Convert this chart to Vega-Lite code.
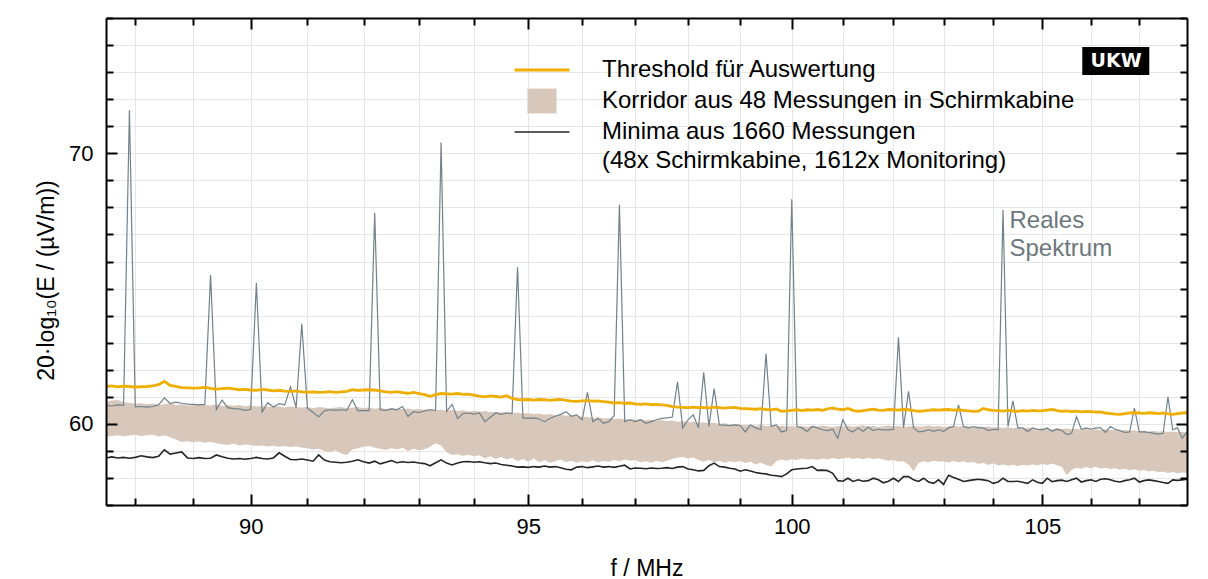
{
"$schema": "https://vega.github.io/schema/vega-lite/v6.json",
"width": 1081, "height": 487,
"autosize": {"type": "none"},
"padding": {"left": 106, "top": 18, "right": 21, "bottom": 74},
"background": "#ffffff",
"config": {
  "view": {"stroke": null},
  "font": "Liberation Sans",
  "axis": {"domainColor": "#000000", "domainWidth": 2, "tickColor": "#000000", "tickWidth": 2, "labelFont": "Liberation Sans", "labelFontSize": 22, "labelColor": "#000000", "titleFont": "Liberation Sans", "titleFontSize": 23, "titleFontWeight": "normal", "titleColor": "#000000", "gridColor": "#e6e6e6", "gridWidth": 1},
  "legend": {"orient": "none", "legendX": 424, "legendY": 40, "direction": "vertical", "labelFont": "Liberation Sans", "labelFontSize": 24, "labelColor": "#000000", "labelLimit": 1000, "labelOffset": 48, "symbolSize": 900, "rowPadding": 6, "symbolStrokeWidth": 2.5}
},
"data": {"values": [
{"f":87.5,"s":60.68,"t":61.38,"lo":59.52,"hi":60.82,"m":58.74},
{"f":87.6,"s":60.66,"t":61.40,"lo":59.55,"hi":60.86,"m":58.78},
{"f":87.7,"s":60.70,"t":61.37,"lo":59.58,"hi":60.88,"m":58.74},
{"f":87.8,"s":60.68,"t":61.39,"lo":59.54,"hi":60.80,"m":58.76},
{"f":87.9,"s":71.6,"t":61.38,"lo":59.57,"hi":60.78,"m":58.73},
{"f":88.0,"s":60.63,"t":61.36,"lo":59.60,"hi":60.74,"m":58.76},
{"f":88.1,"s":60.64,"t":61.37,"lo":59.55,"hi":60.76,"m":58.82},
{"f":88.2,"s":60.62,"t":61.38,"lo":59.58,"hi":60.72,"m":58.78},
{"f":88.3,"s":60.64,"t":61.40,"lo":59.60,"hi":60.75,"m":58.75},
{"f":88.4,"s":60.70,"t":61.45,"lo":59.53,"hi":60.70,"m":58.80},
{"f":88.5,"s":60.96,"t":61.57,"lo":59.58,"hi":60.72,"m":59.04},
{"f":88.6,"s":60.75,"t":61.42,"lo":59.50,"hi":60.76,"m":58.88},
{"f":88.7,"s":60.80,"t":61.38,"lo":59.42,"hi":60.70,"m":58.92},
{"f":88.8,"s":60.76,"t":61.34,"lo":59.33,"hi":60.72,"m":58.96},
{"f":88.9,"s":60.73,"t":61.33,"lo":59.36,"hi":60.68,"m":58.74},
{"f":89.0,"s":60.72,"t":61.32,"lo":59.32,"hi":60.70,"m":58.72},
{"f":89.1,"s":60.70,"t":61.33,"lo":59.35,"hi":60.74,"m":58.75},
{"f":89.2,"s":60.72,"t":61.35,"lo":59.30,"hi":60.70,"m":58.72},
{"f":89.3,"s":65.5,"t":61.31,"lo":59.34,"hi":60.68,"m":58.73},
{"f":89.4,"s":60.52,"t":61.28,"lo":59.28,"hi":60.72,"m":58.85},
{"f":89.5,"s":60.88,"t":61.30,"lo":59.25,"hi":60.66,"m":58.78},
{"f":89.6,"s":60.60,"t":61.32,"lo":59.22,"hi":60.70,"m":58.73},
{"f":89.7,"s":60.56,"t":61.29,"lo":59.27,"hi":60.67,"m":58.70},
{"f":89.8,"s":60.55,"t":61.26,"lo":59.20,"hi":60.70,"m":58.72},
{"f":89.9,"s":60.50,"t":61.27,"lo":59.24,"hi":60.65,"m":58.69},
{"f":90.0,"s":60.53,"t":61.25,"lo":59.22,"hi":60.68,"m":58.72},
{"f":90.1,"s":65.2,"t":61.24,"lo":59.18,"hi":60.64,"m":58.76},
{"f":90.2,"s":60.44,"t":61.27,"lo":59.20,"hi":60.66,"m":58.72},
{"f":90.3,"s":60.78,"t":61.25,"lo":59.16,"hi":60.62,"m":58.70},
{"f":90.4,"s":60.62,"t":61.22,"lo":59.19,"hi":60.66,"m":58.74},
{"f":90.5,"s":60.75,"t":61.24,"lo":59.15,"hi":60.64,"m":58.93},
{"f":90.6,"s":60.70,"t":61.21,"lo":59.18,"hi":60.60,"m":58.80},
{"f":90.7,"s":61.37,"t":61.20,"lo":59.14,"hi":60.64,"m":58.68},
{"f":90.8,"s":60.60,"t":61.22,"lo":59.17,"hi":60.62,"m":58.67},
{"f":90.9,"s":63.7,"t":61.18,"lo":59.12,"hi":60.60,"m":58.70},
{"f":91.0,"s":60.58,"t":61.17,"lo":59.10,"hi":60.63,"m":58.66},
{"f":91.1,"s":60.42,"t":61.18,"lo":59.05,"hi":60.58,"m":58.62},
{"f":91.2,"s":60.26,"t":61.16,"lo":59.08,"hi":60.62,"m":58.85},
{"f":91.3,"s":60.48,"t":61.17,"lo":59.00,"hi":60.60,"m":58.66},
{"f":91.4,"s":60.52,"t":61.19,"lo":58.95,"hi":60.57,"m":58.60},
{"f":91.5,"s":60.50,"t":61.16,"lo":59.02,"hi":60.60,"m":58.58},
{"f":91.6,"s":60.52,"t":61.18,"lo":58.90,"hi":60.62,"m":58.56},
{"f":91.7,"s":60.50,"t":61.20,"lo":58.85,"hi":60.58,"m":58.58},
{"f":91.8,"s":60.89,"t":61.26,"lo":59.05,"hi":60.60,"m":58.62},
{"f":91.9,"s":60.48,"t":61.24,"lo":59.10,"hi":60.62,"m":58.67},
{"f":92.0,"s":60.50,"t":61.25,"lo":59.15,"hi":60.58,"m":58.60},
{"f":92.1,"s":60.48,"t":61.26,"lo":59.18,"hi":60.60,"m":58.55},
{"f":92.2,"s":67.8,"t":61.25,"lo":59.12,"hi":60.56,"m":58.62},
{"f":92.3,"s":60.52,"t":61.22,"lo":59.08,"hi":60.59,"m":58.52},
{"f":92.4,"s":60.50,"t":61.18,"lo":59.03,"hi":60.55,"m":58.58},
{"f":92.5,"s":60.55,"t":61.16,"lo":59.10,"hi":60.58,"m":58.64},
{"f":92.6,"s":60.52,"t":61.19,"lo":59.05,"hi":60.56,"m":58.56},
{"f":92.7,"s":60.64,"t":61.15,"lo":59.12,"hi":60.54,"m":58.60},
{"f":92.8,"s":60.27,"t":61.13,"lo":59.00,"hi":60.57,"m":58.57},
{"f":92.9,"s":60.45,"t":61.16,"lo":59.08,"hi":60.53,"m":58.59},
{"f":93.0,"s":60.42,"t":61.12,"lo":59.02,"hi":60.55,"m":58.55},
{"f":93.1,"s":60.48,"t":61.08,"lo":59.06,"hi":60.52,"m":58.53},
{"f":93.2,"s":60.52,"t":61.02,"lo":59.15,"hi":60.54,"m":58.45},
{"f":93.3,"s":60.50,"t":61.08,"lo":59.28,"hi":60.50,"m":58.56},
{"f":93.4,"s":70.4,"t":61.12,"lo":59.20,"hi":60.52,"m":58.67},
{"f":93.5,"s":60.46,"t":61.11,"lo":58.95,"hi":60.49,"m":58.55},
{"f":93.6,"s":60.72,"t":61.10,"lo":58.85,"hi":60.51,"m":58.48},
{"f":93.7,"s":60.20,"t":61.12,"lo":58.88,"hi":60.47,"m":58.55},
{"f":93.8,"s":60.38,"t":61.09,"lo":58.82,"hi":60.50,"m":58.60},
{"f":93.9,"s":60.40,"t":61.10,"lo":58.86,"hi":60.46,"m":58.61},
{"f":94.0,"s":60.36,"t":61.06,"lo":58.80,"hi":60.48,"m":58.58},
{"f":94.1,"s":60.40,"t":61.02,"lo":58.84,"hi":60.45,"m":58.60},
{"f":94.2,"s":60.08,"t":61.00,"lo":58.72,"hi":60.47,"m":58.56},
{"f":94.3,"s":60.24,"t":61.03,"lo":58.80,"hi":60.43,"m":58.53},
{"f":94.4,"s":60.40,"t":61.01,"lo":58.70,"hi":60.45,"m":58.55},
{"f":94.5,"s":60.35,"t":60.99,"lo":58.78,"hi":60.42,"m":58.50},
{"f":94.6,"s":60.40,"t":61.04,"lo":58.68,"hi":60.44,"m":58.47},
{"f":94.7,"s":60.38,"t":60.94,"lo":58.75,"hi":60.40,"m":58.44},
{"f":94.8,"s":65.8,"t":60.90,"lo":58.62,"hi":60.41,"m":58.40},
{"f":94.9,"s":60.22,"t":60.89,"lo":58.70,"hi":60.38,"m":58.41},
{"f":95.0,"s":60.20,"t":60.90,"lo":58.60,"hi":60.40,"m":58.39},
{"f":95.1,"s":60.22,"t":60.88,"lo":58.72,"hi":60.36,"m":58.42},
{"f":95.2,"s":60.18,"t":60.90,"lo":58.58,"hi":60.38,"m":58.40},
{"f":95.3,"s":60.08,"t":60.89,"lo":58.66,"hi":60.34,"m":58.44},
{"f":95.4,"s":60.20,"t":60.87,"lo":58.55,"hi":60.36,"m":58.40},
{"f":95.5,"s":60.28,"t":60.89,"lo":58.62,"hi":60.32,"m":58.42},
{"f":95.6,"s":60.35,"t":60.90,"lo":58.68,"hi":60.34,"m":58.38},
{"f":95.7,"s":60.45,"t":60.87,"lo":58.58,"hi":60.30,"m":58.32},
{"f":95.8,"s":60.28,"t":60.84,"lo":58.64,"hi":60.32,"m":58.30},
{"f":95.9,"s":60.33,"t":60.83,"lo":58.56,"hi":60.28,"m":58.40},
{"f":96.0,"s":60.15,"t":60.85,"lo":58.62,"hi":60.26,"m":58.42},
{"f":96.1,"s":61.16,"t":60.86,"lo":58.58,"hi":60.25,"m":58.38},
{"f":96.2,"s":60.08,"t":60.84,"lo":58.65,"hi":60.22,"m":58.41},
{"f":96.3,"s":60.20,"t":60.85,"lo":58.57,"hi":60.24,"m":58.44},
{"f":96.4,"s":60.02,"t":60.82,"lo":58.63,"hi":60.20,"m":58.40},
{"f":96.5,"s":60.08,"t":60.80,"lo":58.60,"hi":60.21,"m":58.42},
{"f":96.6,"s":60.30,"t":60.77,"lo":58.66,"hi":60.18,"m":58.39},
{"f":96.7,"s":68.1,"t":60.78,"lo":58.62,"hi":60.20,"m":58.43},
{"f":96.8,"s":60.08,"t":60.76,"lo":58.68,"hi":60.16,"m":58.47},
{"f":96.9,"s":60.15,"t":60.77,"lo":58.64,"hi":60.18,"m":58.33},
{"f":97.0,"s":60.08,"t":60.74,"lo":58.66,"hi":60.15,"m":58.37},
{"f":97.1,"s":60.15,"t":60.72,"lo":58.58,"hi":60.17,"m":58.36},
{"f":97.2,"s":60.02,"t":60.74,"lo":58.62,"hi":60.13,"m":58.34},
{"f":97.3,"s":60.08,"t":60.71,"lo":58.56,"hi":60.15,"m":58.37},
{"f":97.4,"s":60.15,"t":60.72,"lo":58.63,"hi":60.12,"m":58.35},
{"f":97.5,"s":60.20,"t":60.70,"lo":58.58,"hi":60.14,"m":58.36},
{"f":97.6,"s":60.22,"t":60.68,"lo":58.64,"hi":60.10,"m":58.38},
{"f":97.7,"s":60.25,"t":60.64,"lo":58.70,"hi":60.12,"m":58.35},
{"f":97.8,"s":61.55,"t":60.62,"lo":58.75,"hi":60.08,"m":58.40},
{"f":97.9,"s":59.85,"t":60.61,"lo":58.78,"hi":60.10,"m":58.42},
{"f":98.0,"s":60.15,"t":60.60,"lo":58.72,"hi":60.06,"m":58.33},
{"f":98.1,"s":60.33,"t":60.62,"lo":58.76,"hi":60.08,"m":58.30},
{"f":98.2,"s":59.85,"t":60.60,"lo":58.66,"hi":60.04,"m":58.26},
{"f":98.3,"s":61.9,"t":60.61,"lo":58.60,"hi":60.06,"m":58.28},
{"f":98.4,"s":59.90,"t":60.59,"lo":58.66,"hi":60.02,"m":58.45},
{"f":98.5,"s":61.3,"t":60.62,"lo":58.58,"hi":60.04,"m":58.55},
{"f":98.6,"s":59.96,"t":60.60,"lo":58.64,"hi":60.00,"m":58.42},
{"f":98.7,"s":59.95,"t":60.58,"lo":58.56,"hi":60.02,"m":58.40},
{"f":98.8,"s":59.93,"t":60.60,"lo":58.62,"hi":59.98,"m":58.36},
{"f":98.9,"s":59.96,"t":60.61,"lo":58.58,"hi":60.00,"m":58.33},
{"f":99.0,"s":59.94,"t":60.57,"lo":58.64,"hi":59.97,"m":58.25},
{"f":99.1,"s":59.70,"t":60.56,"lo":58.55,"hi":59.95,"m":58.30},
{"f":99.2,"s":59.96,"t":60.55,"lo":58.60,"hi":59.97,"m":58.26},
{"f":99.3,"s":59.85,"t":60.54,"lo":58.50,"hi":59.93,"m":58.20},
{"f":99.4,"s":59.78,"t":60.56,"lo":58.56,"hi":59.95,"m":58.17},
{"f":99.5,"s":62.6,"t":60.53,"lo":58.48,"hi":59.92,"m":58.15},
{"f":99.6,"s":59.90,"t":60.52,"lo":58.42,"hi":59.94,"m":58.10},
{"f":99.7,"s":59.96,"t":60.55,"lo":58.62,"hi":59.90,"m":58.08},
{"f":99.8,"s":59.70,"t":60.46,"lo":58.68,"hi":59.93,"m":58.05},
{"f":99.9,"s":59.75,"t":60.48,"lo":58.64,"hi":59.90,"m":58.15},
{"f":100.0,"s":68.3,"t":60.50,"lo":58.70,"hi":59.92,"m":58.30},
{"f":100.1,"s":59.90,"t":60.52,"lo":58.66,"hi":59.88,"m":58.33},
{"f":100.2,"s":59.85,"t":60.49,"lo":58.72,"hi":59.92,"m":58.35},
{"f":100.3,"s":59.72,"t":60.52,"lo":58.68,"hi":59.89,"m":58.36},
{"f":100.4,"s":59.90,"t":60.51,"lo":58.70,"hi":59.93,"m":58.42},
{"f":100.5,"s":59.85,"t":60.53,"lo":58.67,"hi":59.90,"m":58.28},
{"f":100.6,"s":59.78,"t":60.50,"lo":58.72,"hi":59.94,"m":58.29},
{"f":100.7,"s":59.75,"t":60.55,"lo":58.68,"hi":59.91,"m":58.27},
{"f":100.8,"s":59.80,"t":60.58,"lo":58.74,"hi":59.88,"m":58.17},
{"f":100.9,"s":59.47,"t":60.54,"lo":58.70,"hi":59.92,"m":57.90},
{"f":101.0,"s":60.15,"t":60.52,"lo":58.72,"hi":59.90,"m":57.88},
{"f":101.1,"s":59.78,"t":60.57,"lo":58.76,"hi":59.93,"m":57.99},
{"f":101.2,"s":59.70,"t":60.50,"lo":58.70,"hi":59.89,"m":57.87},
{"f":101.3,"s":59.85,"t":60.46,"lo":58.74,"hi":59.92,"m":57.93},
{"f":101.4,"s":59.72,"t":60.49,"lo":58.69,"hi":59.95,"m":57.88},
{"f":101.5,"s":59.88,"t":60.52,"lo":58.75,"hi":59.90,"m":57.90},
{"f":101.6,"s":59.75,"t":60.54,"lo":58.70,"hi":59.92,"m":57.99},
{"f":101.7,"s":59.80,"t":60.51,"lo":58.73,"hi":59.88,"m":57.93},
{"f":101.8,"s":59.78,"t":60.50,"lo":58.68,"hi":59.91,"m":57.82},
{"f":101.9,"s":59.78,"t":60.53,"lo":58.64,"hi":59.94,"m":57.88},
{"f":102.0,"s":59.80,"t":60.52,"lo":58.66,"hi":59.90,"m":57.99},
{"f":102.1,"s":63.2,"t":60.51,"lo":58.60,"hi":59.92,"m":57.87},
{"f":102.2,"s":59.85,"t":60.53,"lo":58.62,"hi":59.88,"m":58.05},
{"f":102.3,"s":61.2,"t":60.52,"lo":58.50,"hi":59.90,"m":58.05},
{"f":102.4,"s":59.85,"t":60.49,"lo":58.25,"hi":59.93,"m":57.93},
{"f":102.5,"s":59.70,"t":60.46,"lo":58.55,"hi":59.89,"m":57.87},
{"f":102.6,"s":59.72,"t":60.48,"lo":58.62,"hi":59.91,"m":57.99},
{"f":102.7,"s":59.78,"t":60.50,"lo":58.58,"hi":59.94,"m":57.85},
{"f":102.8,"s":59.72,"t":60.52,"lo":58.64,"hi":59.90,"m":57.80},
{"f":102.9,"s":59.78,"t":60.51,"lo":58.60,"hi":59.92,"m":57.93},
{"f":103.0,"s":59.72,"t":60.52,"lo":58.62,"hi":59.88,"m":57.76},
{"f":103.1,"s":59.85,"t":60.53,"lo":58.57,"hi":59.91,"m":58.10},
{"f":103.2,"s":59.90,"t":60.51,"lo":58.63,"hi":59.93,"m":58.02},
{"f":103.3,"s":60.70,"t":60.52,"lo":58.58,"hi":59.89,"m":57.95},
{"f":103.4,"s":59.90,"t":60.50,"lo":58.62,"hi":59.92,"m":57.87},
{"f":103.5,"s":59.85,"t":60.48,"lo":58.56,"hi":59.90,"m":57.90},
{"f":103.6,"s":59.90,"t":60.46,"lo":58.60,"hi":59.87,"m":57.93},
{"f":103.7,"s":59.85,"t":60.47,"lo":58.52,"hi":59.91,"m":57.95},
{"f":103.8,"s":59.85,"t":60.57,"lo":58.56,"hi":59.88,"m":57.93},
{"f":103.9,"s":59.75,"t":60.52,"lo":58.48,"hi":59.90,"m":57.90},
{"f":104.0,"s":59.80,"t":60.50,"lo":58.54,"hi":59.86,"m":57.80},
{"f":104.1,"s":59.78,"t":60.49,"lo":58.46,"hi":59.88,"m":57.85},
{"f":104.2,"s":67.9,"t":60.47,"lo":58.50,"hi":59.85,"m":57.99},
{"f":104.3,"s":59.90,"t":60.50,"lo":58.45,"hi":59.87,"m":57.87},
{"f":104.4,"s":60.85,"t":60.48,"lo":58.49,"hi":59.84,"m":57.87},
{"f":104.5,"s":59.85,"t":60.46,"lo":58.44,"hi":59.86,"m":57.88},
{"f":104.6,"s":59.85,"t":60.49,"lo":58.48,"hi":59.83,"m":57.84},
{"f":104.7,"s":59.72,"t":60.47,"lo":58.46,"hi":59.86,"m":57.80},
{"f":104.8,"s":59.85,"t":60.50,"lo":58.50,"hi":59.84,"m":57.93},
{"f":104.9,"s":59.80,"t":60.48,"lo":58.47,"hi":59.82,"m":57.84},
{"f":105.0,"s":59.78,"t":60.49,"lo":58.52,"hi":59.85,"m":57.80},
{"f":105.1,"s":59.85,"t":60.51,"lo":58.48,"hi":59.83,"m":57.99},
{"f":105.2,"s":59.72,"t":60.53,"lo":58.53,"hi":59.80,"m":57.86},
{"f":105.3,"s":59.80,"t":60.49,"lo":58.47,"hi":59.84,"m":57.90},
{"f":105.4,"s":59.75,"t":60.46,"lo":58.40,"hi":59.81,"m":57.92},
{"f":105.5,"s":59.60,"t":60.48,"lo":58.10,"hi":59.83,"m":57.87},
{"f":105.6,"s":59.65,"t":60.45,"lo":58.30,"hi":59.80,"m":57.93},
{"f":105.7,"s":60.27,"t":60.47,"lo":58.38,"hi":59.82,"m":57.99},
{"f":105.8,"s":59.80,"t":60.44,"lo":58.34,"hi":59.79,"m":57.85},
{"f":105.9,"s":59.85,"t":60.46,"lo":58.40,"hi":59.81,"m":57.90},
{"f":106.0,"s":59.80,"t":60.45,"lo":58.36,"hi":59.78,"m":57.93},
{"f":106.1,"s":59.85,"t":60.43,"lo":58.41,"hi":59.80,"m":57.87},
{"f":106.2,"s":59.85,"t":60.44,"lo":58.35,"hi":59.77,"m":57.95},
{"f":106.3,"s":59.68,"t":60.40,"lo":58.38,"hi":59.79,"m":57.97},
{"f":106.4,"s":59.90,"t":60.38,"lo":58.33,"hi":59.76,"m":57.93},
{"f":106.5,"s":59.80,"t":60.36,"lo":58.36,"hi":59.78,"m":57.88},
{"f":106.6,"s":59.75,"t":60.35,"lo":58.30,"hi":59.75,"m":57.85},
{"f":106.7,"s":59.68,"t":60.38,"lo":58.34,"hi":59.77,"m":57.90},
{"f":106.8,"s":59.70,"t":60.40,"lo":58.28,"hi":59.74,"m":57.93},
{"f":106.9,"s":60.58,"t":60.41,"lo":58.32,"hi":59.76,"m":57.99},
{"f":107.0,"s":59.70,"t":60.40,"lo":58.27,"hi":59.73,"m":57.85},
{"f":107.1,"s":59.70,"t":60.39,"lo":58.30,"hi":59.75,"m":57.90},
{"f":107.2,"s":59.68,"t":60.41,"lo":58.24,"hi":59.72,"m":57.93},
{"f":107.3,"s":59.65,"t":60.40,"lo":58.27,"hi":59.74,"m":57.90},
{"f":107.4,"s":59.62,"t":60.38,"lo":58.21,"hi":59.71,"m":57.87},
{"f":107.5,"s":59.65,"t":60.40,"lo":58.24,"hi":59.73,"m":57.83},
{"f":107.6,"s":61.0,"t":60.37,"lo":58.18,"hi":59.70,"m":57.80},
{"f":107.7,"s":59.78,"t":60.35,"lo":58.22,"hi":59.72,"m":57.93},
{"f":107.8,"s":59.85,"t":60.38,"lo":58.17,"hi":59.69,"m":57.91},
{"f":107.9,"s":59.47,"t":60.40,"lo":58.20,"hi":59.71,"m":57.93},
{"f":108.0,"s":59.70,"t":60.41,"lo":58.18,"hi":59.68,"m":57.95}
]},
"layer": [
  {
    "mark": {"type": "area", "opacity": 1, "color": "#d8c7bb"},
    "encoding": {
      "x": {"field": "f", "type": "quantitative", "scale": {"type": "log", "domain": [87.5, 108], "nice": false, "zero": false},
        "axis": {"orient": "bottom", "values": [88,89,90,91,92,93,94,95,96,97,98,99,100,101,102,103,104,105,106,107], "grid": true, "domain": false, "ticks": false, "labels": false, "title": null, "zindex": 0}},
      "y": {"field": "lo", "type": "quantitative", "scale": {"domain": [57, 75], "nice": false, "zero": false},
        "axis": {"orient": "left", "values": [57,58,59,60,61,62,63,64,65,66,67,68,69,70,71,72,73,74,75], "grid": true, "domain": false, "ticks": false, "labels": false, "title": null, "zindex": 0}},
      "y2": {"field": "hi"}
    }
  },
  {
    "mark": {"type": "line", "color": "#71828a", "strokeWidth": 1.2},
    "encoding": {
      "x": {"field": "f", "type": "quantitative", "scale": {"type": "log", "domain": [87.5, 108], "nice": false, "zero": false},
        "axis": {"orient": "bottom", "values": [88,89,90,91,92,93,94,95,96,97,98,99,100,101,102,103,104,105,106,107],
          "labelExpr": "datum.value % 5 === 0 ? format(datum.value, 'd') : ''",
          "tickSize": {"condition": {"test": "datum.value % 5 === 0", "value": -11}, "value": -7},
          "labelPadding": 22, "labelFlush": false, "labelOverlap": false, "grid": false,
          "title": "f / MHz", "titleY": 70, "titleBaseline": "alphabetic", "zindex": 1}},
      "y": {"field": "s", "type": "quantitative", "scale": {"domain": [57, 75], "nice": false, "zero": false},
        "axis": {"orient": "left", "values": [57,58,59,60,61,62,63,64,65,66,67,68,69,70,71,72,73,74,75],
          "labelExpr": "datum.value % 10 === 0 ? format(datum.value, 'd') : ''",
          "tickSize": {"condition": {"test": "datum.value % 10 === 0", "value": -11}, "value": -7},
          "labelPadding": 24, "labelFlush": false, "labelOverlap": false, "grid": false,
          "title": "20·log₁₀(E / (µV/m))", "titleX": -53, "titleY": 262, "titleBaseline": "alphabetic", "titleAngle": 270, "titleAlign": "center", "zindex": 1}}
    }
  },
  {
    "mark": {"type": "line", "strokeWidth": 2.8},
    "encoding": {
      "x": {"field": "f", "type": "quantitative", "scale": {"type": "log", "domain": [87.5, 108], "nice": false, "zero": false}, "axis": null},
      "y": {"field": "t", "type": "quantitative", "scale": {"domain": [57, 75], "nice": false, "zero": false}, "axis": null},
      "color": {"datum": "Threshold für Auswertung", "type": "nominal",
        "scale": {"domain": ["Threshold für Auswertung", "Korridor aus 48 Messungen in Schirmkabine", "Minima aus 1660 Messungen"], "range": ["#efae00", "#d8c7bb", "#262626"]},
        "legend": {"title": null, "symbolType": "M-1.83,0H1.83",
          "labelExpr": "datum.value === 'Minima aus 1660 Messungen' ? ['Minima aus 1660 Messungen', '(48x Schirmkabine, 1612x Monitoring)'] : datum.label",
          "encode": {
            "symbols": {"update": {
              "shape": {"signal": "datum.value === 'Korridor aus 48 Messungen in Schirmkabine' ? 'M-0.97,-0.83H0.97V0.83H-0.97Z' : 'M-1.83,0H1.83'"},
              "fill": {"signal": "datum.value === 'Korridor aus 48 Messungen in Schirmkabine' ? '#d8c7bb' : 'transparent'"},
              "stroke": {"signal": "datum.value === 'Threshold für Auswertung' ? '#efae00' : datum.value === 'Korridor aus 48 Messungen in Schirmkabine' ? '#d8c7bb' : '#262626'"},
              "strokeWidth": {"signal": "datum.value === 'Threshold für Auswertung' ? 2.8 : datum.value === 'Korridor aus 48 Messungen in Schirmkabine' ? 0 : 1.5"},
              "opacity": {"value": 1}
            }},
            "labels": {"update": {
              "lineHeight": {"value": 29}
            }}
          }
        }}
    }
  },
  {
    "mark": {"type": "line", "strokeWidth": 1.6, "color": "#262626"},
    "encoding": {
      "x": {"field": "f", "type": "quantitative", "scale": {"type": "log", "domain": [87.5, 108], "nice": false, "zero": false},
        "axis": {"orient": "top", "values": [88,89,90,91,92,93,94,95,96,97,98,99,100,101,102,103,104,105,106,107],
          "labels": false, "tickSize": {"condition": {"test": "datum.value % 5 === 0", "value": -11}, "value": -7},
          "grid": false, "title": null, "zindex": 1}},
      "y": {"field": "m", "type": "quantitative", "scale": {"domain": [57, 75], "nice": false, "zero": false},
        "axis": {"orient": "right", "values": [57,58,59,60,61,62,63,64,65,66,67,68,69,70,71,72,73,74,75],
          "labels": false, "tickSize": {"condition": {"test": "datum.value % 10 === 0", "value": -11}, "value": -7},
          "grid": false, "title": null, "zindex": 1}}
    }
  },
  {
    "data": {"values": [{"label": "UKW"}]},
    "mark": {"type": "rect", "color": "#000000"},
    "encoding": {
      "x": {"datum": 105.82, "type": "quantitative", "scale": {"type": "log", "domain": [87.5, 108], "nice": false, "zero": false}, "axis": null},
      "x2": {"datum": 107.21},
      "y": {"datum": 73.93, "type": "quantitative", "scale": {"domain": [57, 75], "nice": false, "zero": false}, "axis": null},
      "y2": {"datum": 72.89}
    }
  },
  {
    "data": {"values": [{"label": "UKW"}]},
    "mark": {"type": "text", "color": "#ffffff", "font": "DejaVu Sans", "fontWeight": "bold", "fontSize": 19, "align": "center", "baseline": "middle"},
    "encoding": {
      "x": {"datum": 106.52, "type": "quantitative", "scale": {"type": "log", "domain": [87.5, 108], "nice": false, "zero": false}, "axis": null},
      "y": {"datum": 73.4, "type": "quantitative", "scale": {"domain": [57, 75], "nice": false, "zero": false}, "axis": null},
      "text": {"field": "label"}
    }
  },
  {
    "data": {"values": [{"label": "Reales Spektrum"}]},
    "mark": {"type": "text", "color": "#6b777c", "font": "Liberation Sans", "fontSize": 24, "align": "left", "baseline": "alphabetic", "lineHeight": 28, "text": ["Reales", "Spektrum"]},
    "encoding": {
      "x": {"datum": 104.33, "type": "quantitative", "scale": {"type": "log", "domain": [87.5, 108], "nice": false, "zero": false}, "axis": null},
      "y": {"datum": 67.22, "type": "quantitative", "scale": {"domain": [57, 75], "nice": false, "zero": false}, "axis": null}
    }
  }
],
"resolve": {"axis": {"x": "independent", "y": "independent"}}
}
